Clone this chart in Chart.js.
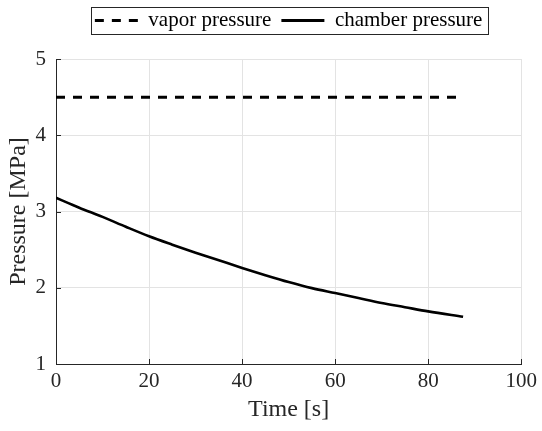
<!DOCTYPE html>
<html>
<head>
<meta charset="utf-8">
<script src="https://cdn.jsdelivr.net/npm/chart.js@4/dist/chart.umd.min.js"></script>
<style>
    html, body { margin: 0; padding: 0; background: #fff; }
    #wrap { width: 542px; height: 431px; }
</style>
</head>
<body>
<div id="wrap"><canvas id="pressureChart"></canvas></div>
<script>
// values
const timeS = [0, 5, 10, 15, 20, 25, 30, 35, 40, 45, 50, 55, 60, 65, 70, 75, 80, 87.5];
const chamberMPa = [3.18, 3.05, 2.93, 2.80, 2.675, 2.565, 2.46, 2.36, 2.26, 2.165, 2.075, 1.995, 1.93, 1.865, 1.80, 1.745, 1.69, 1.62];
const vaporTimeS = [0, 87.5];
const vaporMPa = [4.5, 4.5];
const seriesNames = ['vapor pressure', 'chamber pressure'];

const SERIF = '"Liberation Serif", "Times New Roman", serif';
const TEXT = '#262626';

const toPoints = (xs, ys) => xs.map((x, i) => ({ x: x, y: ys[i] }));

// box round the legend items, like the matlab one
const legendBorder = {
    id: 'legendBorder',
    afterDraw(chart) {
        const boxes = chart.legend && chart.legend.legendHitBoxes;
        if (!boxes || boxes.length === 0) return;
        const left = Math.min(...boxes.map(b => b.left)) - 4;
        const right = Math.max(...boxes.map(b => b.left + b.width)) + 5;
        const top = Math.min(...boxes.map(b => b.top)) - 3;
        const bottom = Math.max(...boxes.map(b => b.top + b.height)) + 3;
        const ctx = chart.ctx;
        ctx.save();
        ctx.strokeStyle = '#262626';
        ctx.lineWidth = 1;
        ctx.strokeRect(Math.round(left) + 0.5, Math.round(top) + 0.5, Math.round(right - left), Math.round(bottom - top));
        ctx.restore();
    }
};

// small ticks pointing into the plot area
const innerTicks = {
    id: 'innerTicks',
    afterDraw(chart) {
        const ctx = chart.ctx;
        const area = chart.chartArea;
        const xs = chart.scales.x;
        const ys = chart.scales.y;
        ctx.save();
        ctx.strokeStyle = '#262626';
        ctx.lineWidth = 1;
        ctx.beginPath();
        xs.ticks.forEach(t => {
            const px = Math.round(xs.getPixelForValue(t.value)) + 0.5;
            ctx.moveTo(px, area.bottom);
            ctx.lineTo(px, area.bottom - 5);
        });
        ys.ticks.forEach(t => {
            const py = Math.round(ys.getPixelForValue(t.value)) + 0.5;
            ctx.moveTo(area.left, py);
            ctx.lineTo(area.left + 5, py);
        });
        ctx.stroke();
        ctx.restore();
    }
};

const ctx = document.getElementById('pressureChart').getContext('2d');
new Chart(ctx, {
    type: 'line',
    data: {
        datasets: [
            {
                label: seriesNames[0],
                data: toPoints(vaporTimeS, vaporMPa),
                borderColor: '#000',
                backgroundColor: '#000',
                borderWidth: 3,
                borderDash: [9, 8],
                pointRadius: 0,
                pointStyle: 'line',
                fill: false
            },
            {
                label: seriesNames[1],
                data: toPoints(timeS, chamberMPa),
                borderColor: '#000',
                backgroundColor: '#000',
                borderWidth: 2.6,
                pointRadius: 0,
                pointStyle: 'line',
                cubicInterpolationMode: 'monotone',
                fill: false
            }
        ]
    },
    options: {
        responsive: true,
        maintainAspectRatio: false,
        animation: false,
        layout: {
            padding: { top: 0, right: 18, bottom: 0, left: 0 }
        },
        plugins: {
            legend: {
                display: true,
                position: 'top',
                fullSize: false,
                labels: {
                    usePointStyle: true,
                    pointStyleWidth: 43,
                    padding: 10,
                    color: '#000',
                    font: { family: SERIF, size: 21 },
                    generateLabels: (chart) => {
                        const items = Chart.defaults.plugins.legend.labels.generateLabels(chart);
                        items.forEach(item => {
                            const ds = chart.data.datasets[item.datasetIndex];
                            item.lineDash = ds.borderDash ? [9, 8] : [];
                            item.lineWidth = 3;
                        });
                        return items;
                    }
                }
            },
            // empty title used as a gap between the legend and the plot
            title: {
                display: true,
                text: '',
                position: 'top',
                fullSize: false,
                weight: 500,
                font: { size: 1, lineHeight: 1 },
                padding: { top: 0, bottom: 17 }
            },
            tooltip: { enabled: false }
        },
        scales: {
            x: {
                type: 'linear',
                min: 0,
                max: 100,
                ticks: {
                    stepSize: 20,
                    padding: 5,
                    color: TEXT,
                    font: { family: SERIF, size: 21 },
                    maxRotation: 0
                },
                grid: { color: '#e3e3e3', drawTicks: false },
                border: { display: true, color: '#262626', width: 1 },
                title: {
                    display: true,
                    text: 'Time [s]',
                    color: TEXT,
                    font: { family: SERIF, size: 24 },
                    padding: { top: 0, bottom: 7 }
                },
                afterFit: (scale) => { scale.height = 67; }
            },
            y: {
                type: 'linear',
                min: 1,
                max: 5,
                ticks: {
                    stepSize: 1,
                    padding: 10,
                    color: TEXT,
                    font: { family: SERIF, size: 21 }
                },
                grid: { color: '#e3e3e3', drawTicks: false },
                border: { display: true, color: '#262626', width: 1 },
                title: {
                    display: true,
                    text: 'Pressure [MPa]',
                    color: TEXT,
                    font: { family: SERIF, size: 24 },
                    padding: { top: 4, bottom: 0 }
                },
                afterFit: (scale) => { scale.width = 56; }
            }
        }
    },
    plugins: [legendBorder, innerTicks]
});
</script>
</body>
</html>
